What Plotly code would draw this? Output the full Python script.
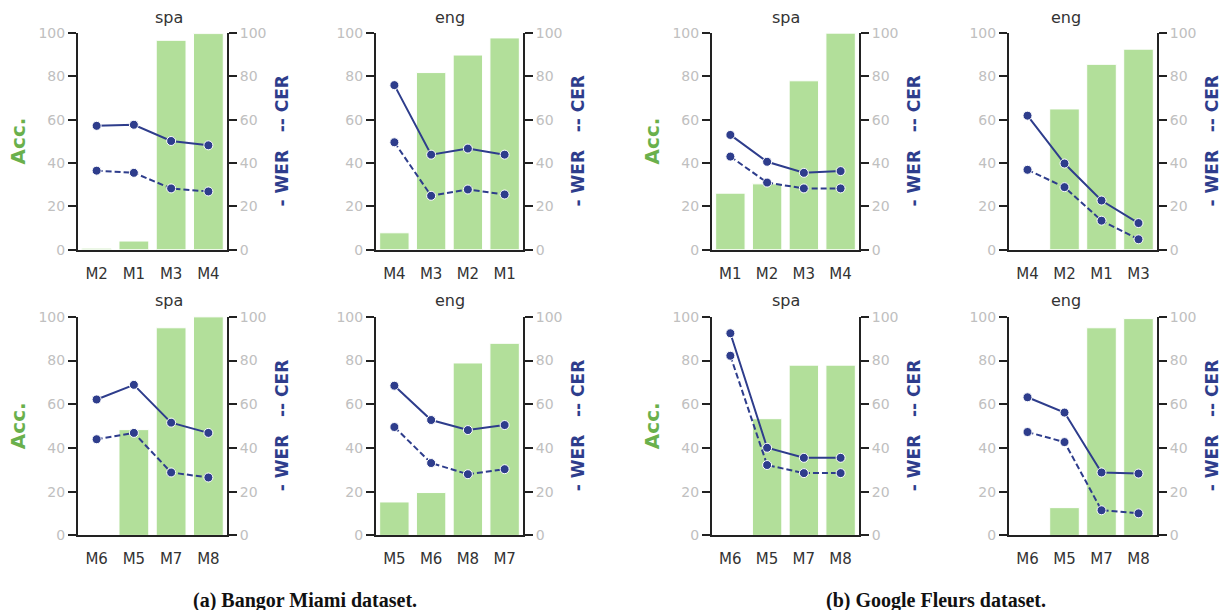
import plotly.graph_objects as go

# ---------------- data ----------------
titles = ["spa", "eng", "spa", "eng", "spa", "eng", "spa", "eng"]
cats = [
    ["M2", "M1", "M3", "M4"],
    ["M4", "M3", "M2", "M1"],
    ["M1", "M2", "M3", "M4"],
    ["M4", "M2", "M1", "M3"],
    ["M6", "M5", "M7", "M8"],
    ["M5", "M6", "M8", "M7"],
    ["M6", "M5", "M7", "M8"],
    ["M6", "M5", "M7", "M8"],
]
acc = [
    [0.7, 4.0, 96.7, 99.8],
    [7.8, 81.8, 89.9, 97.8],
    [26.1, 30.4, 78.0, 100.0],
    [0.0, 65.0, 85.6, 92.6],
    [0.0, 48.4, 95.0, 100.0],
    [15.3, 19.6, 78.9, 87.9],
    [0.0, 53.4, 77.9, 77.9],
    [0.0, 12.7, 95.0, 99.2],
]
wer = [
    [57.2, 57.7, 50.2, 48.2],
    [76.0, 43.9, 46.7, 43.9],
    [53.0, 40.6, 35.5, 36.3],
    [61.9, 39.8, 22.7, 12.3],
    [62.2, 68.9, 51.6, 46.9],
    [68.5, 52.8, 48.2, 50.5],
    [92.5, 40.1, 35.5, 35.5],
    [63.2, 56.2, 28.8, 28.3],
]
cer = [
    [36.5, 35.5, 28.3, 26.9],
    [49.6, 24.9, 27.8, 25.5],
    [43.0, 31.0, 28.3, 28.3],
    [36.9, 28.9, 13.4, 4.8],
    [44.0, 46.9, 28.8, 26.5],
    [49.6, 33.1, 28.0, 30.3],
    [82.2, 32.2, 28.5, 28.5],
    [47.3, 42.7, 11.5, 10.1],
]
yticks = [0, 20, 40, 60, 80, 100]
captions = ["(a) Bangor Miami dataset.", "(b) Google Fleurs dataset."]

# ---------------- layout ----------------
W, H = 1221, 625
Y_OFF, Y_SC = 7.9, 0.972  # observed vertical mapping of the page in the photograph


def py(t):
    """target picture row -> page row"""
    return (t - Y_OFF) / Y_SC


def pyp(t):
    """target picture row -> paper y"""
    return 1 - py(t) / H


col_px = [(78, 227), (376, 523), (712, 859), (1009, 1157)]
row_px = [(33, 249), (316, 534)]

BAR = "#b2df9a"
LINE = "#2e3d8c"
GREEN = "#6ab04c"
AXC = "#222222"
TICKC = "#c0c0c0"

fig = go.Figure()
layout = dict(
    width=W, height=H, margin=dict(l=0, r=0, t=0, b=0),
    paper_bgcolor="white", plot_bgcolor="white",
    showlegend=False, bargap=0.2,
    font=dict(family="DejaVu Sans"),
)
annotations = []

for i in range(8):
    r, c = divmod(i, 4)
    x0, x1 = col_px[c]
    y0, y1 = row_px[r]
    xa = f"x{i+1}" if i else "x"
    ya_l = f"y{2*i+1}" if i else "y"
    ya_r = f"y{2*i+2}"
    xkey = f"xaxis{i+1}" if i else "xaxis"
    ylkey = f"yaxis{2*i+1}" if i else "yaxis"
    yrkey = f"yaxis{2*i+2}"
    xd = [x0 / W, x1 / W]
    yd = [pyp(y1), pyp(y0)]

    fig.add_trace(go.Bar(
        x=cats[i], y=acc[i], xaxis=xa, yaxis=ya_l,
        marker=dict(color=BAR, line=dict(color="white", width=1)),
    ))
    fig.add_trace(go.Scatter(
        x=cats[i], y=wer[i], xaxis=xa, yaxis=ya_r, mode="lines+markers",
        line=dict(color=LINE, width=2),
        marker=dict(color=LINE, size=9, line=dict(color="white", width=1)),
    ))
    fig.add_trace(go.Scatter(
        x=cats[i], y=cer[i], xaxis=xa, yaxis=ya_r, mode="lines+markers",
        line=dict(color=LINE, width=2, dash="6px,3px"),
        marker=dict(color=LINE, size=9, line=dict(color="white", width=1)),
    ))

    layout[xkey] = dict(
        domain=xd, anchor=ya_l, type="category", categoryorder="array",
        categoryarray=cats[i], range=[-0.5, 3.5],
        showline=True, linecolor=AXC, linewidth=2, mirror=False,
        ticks="outside", ticklen=9, tickcolor="rgba(0,0,0,0)",
        tickfont=dict(size=15, color="#333333"), showgrid=False, zeroline=False,
        fixedrange=True,
    )
    common_y = dict(
        domain=yd, range=[0, 100], tickvals=yticks,
        showline=True, linecolor=AXC, linewidth=2,
        ticks="outside", ticklen=8, tickwidth=2, tickcolor=AXC,
        tickfont=dict(size=14, color=TICKC), showgrid=False, zeroline=False,
    )
    layout[ylkey] = dict(common_y, anchor=xa, side="left")
    layout[yrkey] = dict(common_y, anchor=xa, side="right", overlaying=ya_l)

    # subplot title
    annotations.append(dict(
        x=(x0 + x1) / 2 / W, y=pyp(y0 - 16), xref="paper", yref="paper",
        text=titles[i], showarrow=False, yanchor="middle",
        font=dict(size=16, color="#333333"),
    ))
    # right axis label
    annotations.append(dict(
        x=(x1 + 55) / W, y=pyp((y0 + y1) / 2), xref="paper", yref="paper",
        text="<b>- WER\u00a0\u00a0\u00a0-- CER</b>", textangle=-90, showarrow=False,
        font=dict(size=17, color=LINE, family="DejaVu Sans"),
        xanchor="center", yanchor="middle",
    ))
    # left axis label
    if c in (0, 2):
        annotations.append(dict(
            x=(x0 - 60) / W, y=pyp((y0 + y1) / 2), xref="paper", yref="paper",
            text="<b>Acc.</b>", textangle=-90, showarrow=False,
            font=dict(size=20, color=GREEN, family="DejaVu Sans"),
            xanchor="center", yanchor="middle",
        ))

annotations.append(dict(
    x=305 / W, y=pyp(599), xref="paper", yref="paper", text="<b>" + captions[0] + "</b>",
    showarrow=False, font=dict(size=20, color="#111111", family="Liberation Serif"),
    xanchor="center", yanchor="middle",
))
annotations.append(dict(
    x=936 / W, y=pyp(599), xref="paper", yref="paper", text="<b>" + captions[1] + "</b>",
    showarrow=False, font=dict(size=20, color="#111111", family="Liberation Serif"),
    xanchor="center", yanchor="middle",
))

layout["annotations"] = annotations
fig.update_layout(**layout)

post = (
    "var h=document.documentElement,b=document.body;"
    "h.style.margin='0';h.style.padding='0';"
    "b.style.margin='0';b.style.padding='0';"
)
fig.write_html("out.html", config={"displayModeBar": False}, post_script=post)
